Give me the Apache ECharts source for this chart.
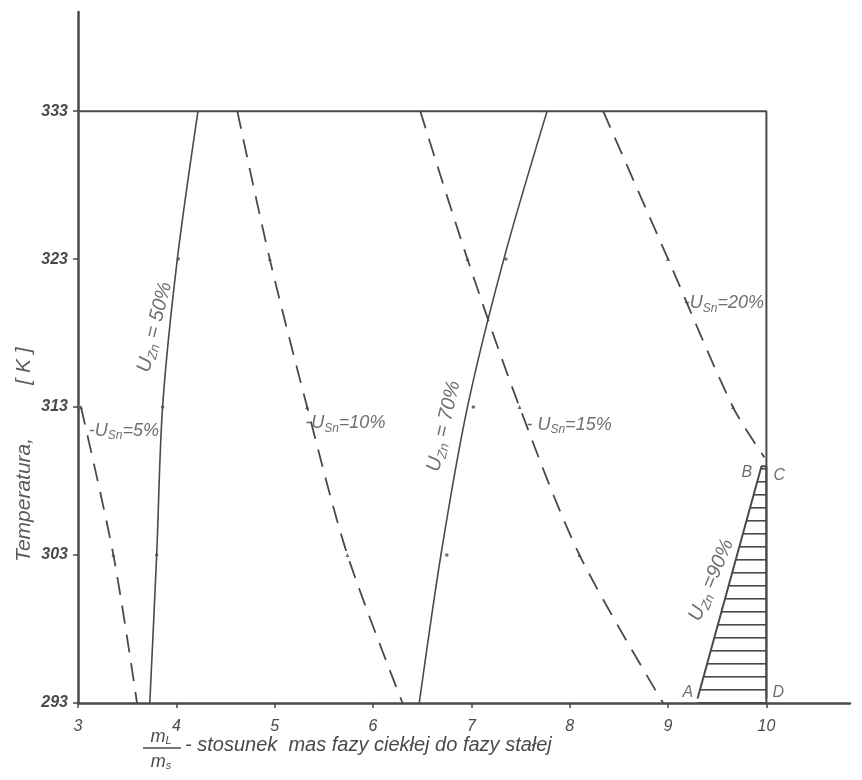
<!DOCTYPE html>
<html>
<head>
<meta charset="utf-8">
<script src="https://cdn.jsdelivr.net/npm/echarts@6/dist/echarts.min.js"></script>
<style>html,body{margin:0;padding:0;background:#fff}#c{width:862px;height:780px}</style>
</head>
<body>
<div id="c"></div>
<script>
// ---- data ----
const xTicks = [3, 4, 5, 6, 7, 8, 9, 10];
const yTicks = [293, 303, 313, 323, 333];
const frame = [[3, 333], [10, 333], [10, 293]];
// U_Sn curves (dashed)
const usn5  = [[3.03, 313], [3.36, 303], [3.60, 293]];
const usn10 = [[4.62, 333], [4.95, 323], [5.33, 313], [5.74, 303], [6.30, 293]];
const usn15 = [[6.48, 333], [6.96, 323], [7.49, 313], [8.10, 303], [8.95, 293]];
const usn20 = [[8.34, 333], [9.00, 323], [9.66, 313], [9.98, 309.6]];
// U_Zn curves (solid)
const uzn50 = [[3.73, 293], [3.80, 303], [3.86, 313], [4.01, 323], [4.22, 333]];
const uzn70 = [[6.47, 293], [6.69, 303], [6.96, 313], [7.33, 323], [7.77, 333]];
const uzn90 = [[9.30, 293.3], [9.95, 309], [10, 309], [10, 293.3]]; // A-B-C-D
// measured points
const usnPts = [[3.03, 313], [3.36, 303], [4.95, 323], [5.33, 313], [5.74, 303],
                [6.96, 323], [7.49, 313], [8.10, 303], [9.00, 323], [9.66, 313]];
const uznPts = [[3.80, 303], [3.86, 313], [4.02, 323], [6.75, 303], [7.02, 313], [7.35, 323]];
// curve annotations
const curveLabels = [
  { at: [3.11, 311.4], text: '-{u|U}{s|Sn}{u|=5%}', rot: 0, left: true },
  { at: [5.31, 311.9], text: '-{u|U}{s|Sn}{u|=10%}', rot: 0, left: true },
  { at: [7.56, 311.8], text: '- {u|U}{s|Sn}{u|=15%}', rot: 0, left: true },
  { at: [9.16, 320.0], text: '-{u|U}{s|Sn}{u|=20%}', rot: 0, left: true },
  { at: [3.78, 318.4], text: '{v|U}{t|Zn}{v| = 50%}', rot: 76, left: false },
  { at: [6.72, 311.7], text: '{v|U}{t|Zn}{v| = 70%}', rot: 77, left: false },
  { at: [9.44, 301.3], text: '{v|U}{t|Zn}{v| =90%}', rot: 67, left: false }
];
const pointLabels = [
  { at: [9.20, 293.7], text: 'A' },
  { at: [9.80, 308.6], text: 'B' },
  { at: [10.13, 308.4], text: 'C' },
  { at: [10.12, 293.7], text: 'D' }
];

// ---- styles ----
const INK = '#4a4a4a';
const FONT = 'Liberation Sans';
const pc = document.createElement('canvas');
pc.width = 8; pc.height = 13;
const pctx = pc.getContext('2d');
pctx.fillStyle = INK;
pctx.fillRect(0, 0, 8, 1.6);

const richStyle = {
  u: { fontSize: 18, fontStyle: 'italic', color: INK, fontFamily: FONT },
  s: { fontSize: 12, fontStyle: 'italic', color: INK, fontFamily: FONT, padding: [10, 0, 0, 0] },
  v: { fontSize: 20, fontStyle: 'italic', color: INK, fontFamily: FONT },
  t: { fontSize: 13, fontStyle: 'italic', color: INK, fontFamily: FONT, padding: [11, 0, 0, 0] }
};

function dashed(data) {
  return { type: 'line', data: data, smooth: 0.3, symbol: 'none',
    lineStyle: { color: INK, width: 1.8, type: [18, 11] }, z: 3 };
}
function solid(data) {
  return { type: 'line', data: data, smooth: 0.3, symbol: 'none',
    lineStyle: { color: INK, width: 1.6 }, z: 3 };
}

const series = [
  { type: 'line', data: frame, symbol: 'none', lineStyle: { color: INK, width: 2 }, z: 2 },
  dashed(usn5), dashed(usn10), dashed(usn15), dashed(usn20),
  solid(uzn50), solid(uzn70),
  { type: 'line', data: uzn90, symbol: 'none', lineStyle: { color: INK, width: 2 },
    areaStyle: { color: { image: pc, repeat: 'repeat' }, opacity: 1 }, z: 3 },
  { type: 'scatter', data: usnPts, symbol: 'triangle', symbolSize: 4,
    itemStyle: { color: INK }, z: 4 },
  { type: 'scatter', data: uznPts, symbol: 'circle', symbolSize: 3.5,
    itemStyle: { color: INK }, z: 4 },
  { type: 'scatter', symbolSize: 0, z: 5,
    data: curveLabels.map(l => ({
      value: l.at,
      label: {
        show: true, formatter: l.text, rich: richStyle,
        rotate: l.rot, position: l.left ? 'right' : 'inside', distance: 0,
        align: l.left ? 'left' : 'center', verticalAlign: 'middle',
        color: INK, fontSize: 18, fontStyle: 'italic', fontFamily: FONT
      }
    })) },
  { type: 'scatter', symbolSize: 0, z: 5,
    data: pointLabels.map(l => ({
      value: l.at,
      label: { show: true, formatter: l.text, position: 'inside',
        color: INK, fontSize: 16, fontStyle: 'italic', fontFamily: FONT }
    })) }
];

const chart = echarts.init(document.getElementById('c'), null, { renderer: 'canvas' });
chart.setOption({
  animation: false,
  backgroundColor: '#fff',
  grid: { left: 78, right: 12, top: 12, bottom: 77 },
  xAxis: {
    type: 'value', min: 3, max: 10.85,
    axisLine: { show: true, onZero: false, lineStyle: { color: INK, width: 2.5 } },
    axisTick: { show: true, length: 5, customValues: xTicks, lineStyle: { color: INK, width: 1.5 } },
    axisLabel: { customValues: xTicks, margin: 16, color: INK, fontSize: 16,
      fontStyle: 'italic', fontFamily: FONT },
    splitLine: { show: false }
  },
  yAxis: {
    type: 'value', min: 293, max: 339.7,
    axisLine: { show: true, onZero: false, lineStyle: { color: INK, width: 2.5 } },
    axisTick: { show: true, length: 5, customValues: yTicks, lineStyle: { color: INK, width: 1.5 } },
    axisLabel: { customValues: yTicks, margin: 10, color: INK, fontSize: 16,
      fontStyle: 'italic', fontWeight: 'bold', fontFamily: FONT },
    splitLine: { show: false }
  },
  graphic: [
    { type: 'text', x: 24, y: 562, rotation: Math.PI / 2,
      style: { text: 'Temperatura,', fill: '#5a5a5a', fontSize: 21, fontStyle: 'italic',
        fontFamily: FONT, align: 'left', verticalAlign: 'middle' } },
    { type: 'text', x: 24, y: 366, rotation: Math.PI / 2,
      style: { text: '[ K ]', fill: '#5a5a5a', fontSize: 21, fontStyle: 'italic',
        fontFamily: FONT, align: 'center', verticalAlign: 'middle' } },
    { type: 'text', x: 161, y: 737,
      style: { text: '{m|m}{s|L}', fill: INK, align: 'center', verticalAlign: 'middle',
        rich: { m: { fontSize: 18, fontStyle: 'italic', fontFamily: FONT, fill: INK },
                s: { fontSize: 11, fontStyle: 'italic', fontFamily: FONT, fill: INK, padding: [7, 0, 0, 0] } } } },
    { type: 'line', shape: { x1: 143, y1: 748, x2: 181, y2: 748 },
      style: { stroke: INK, lineWidth: 1.3 } },
    { type: 'text', x: 161, y: 762,
      style: { text: '{m|m}{s|s}', fill: INK, align: 'center', verticalAlign: 'middle',
        rich: { m: { fontSize: 18, fontStyle: 'italic', fontFamily: FONT, fill: INK },
                s: { fontSize: 11, fontStyle: 'italic', fontFamily: FONT, fill: INK, padding: [7, 0, 0, 0] } } } },
    { type: 'text', x: 185, y: 745,
      style: { text: '- stosunek  mas fazy ciekłej do fazy stałej', fill: INK, fontSize: 20,
        fontStyle: 'italic', fontFamily: FONT, align: 'left', verticalAlign: 'middle' } }
  ],
  series: series
});
</script>
</body>
</html>
